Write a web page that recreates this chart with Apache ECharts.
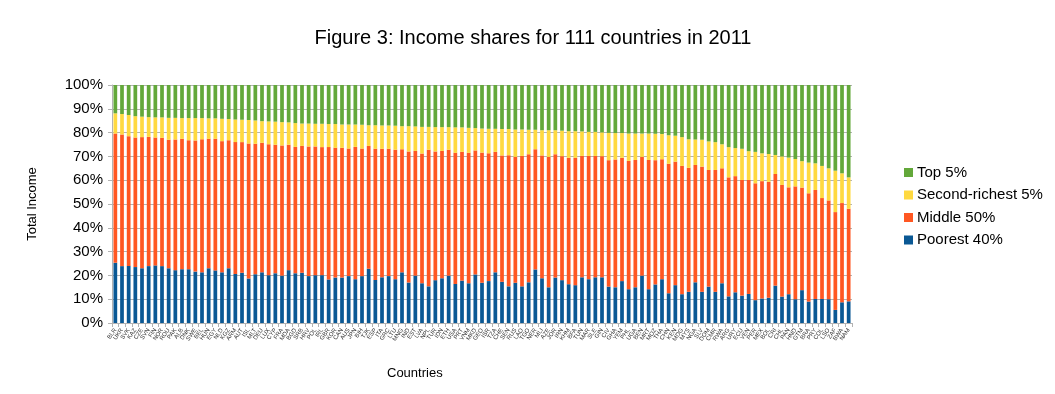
<!DOCTYPE html>
<html>
<head>
<meta charset="utf-8">
<script src="https://cdn.jsdelivr.net/npm/echarts@6/dist/echarts.min.js"></script>
<style>
html,body{margin:0;padding:0;background:#fff;}
#chart{width:1055px;height:394px;}
</style>
</head>
<body>
<div id="chart"></div>
<script>
const countries = ["BLR","UKR","SVK","KAZ","CZE","SVN","FIN","NOR","ROU","PAK","ALB","DNK","SWE","BEL","HUN","EGY","NLD","KGZ","ARM","AUT","ISL","MLT","DEU","LUX","CYP","FRA","MDA","BGD","SRB","HRV","POL","IRL","GBR","KOR","CAN","AUS","JPN","BIH","TJK","ESP","ITA","GRC","LTU","MNG","IND","EST","LVA","NPL","TUR","IDN","ETH","USA","PRT","VNM","MKD","GEO","ISR","TZA","CHE","SEN","RUS","LAO","TGO","NER","MLI","AZE","JOR","IRN","KHM","BFA","TUN","MAR","SLE","GIN","CIV","GHA","YEM","PHL","UGA","BEN","MRT","MOZ","THA","CHN","KEN","MDG","MYS","NGA","SLV","DOM","CMR","RWA","ARG","URY","ECU","VEN","PER","MEX","BOL","CRI","CHL","PAN","HND","GTM","BRA","PRY","COL","LSO","ZAF","BWA","NAM"];

const poorest40 = [25.3,23.9,24.0,23.5,23.0,23.9,24.2,23.9,23.0,22.2,22.6,22.6,21.6,21.3,23.0,22.1,21.3,23.0,20.6,21.1,18.7,20.5,21.3,20.1,20.9,19.9,22.2,20.9,21.1,19.7,20.1,20.1,18.3,19.1,19.1,19.7,18.4,19.7,22.8,18.1,19.2,19.7,18.4,21.3,17.0,19.9,16.7,15.4,18.0,18.8,19.9,16.4,17.8,16.7,20.4,16.9,17.6,21.3,17.3,15.4,16.9,15.4,17.1,22.5,18.8,15.0,19.1,18.0,16.3,15.9,19.2,18.4,19.2,19.2,15.3,15.0,17.6,14.2,15.0,19.9,14.2,16.2,18.4,12.5,15.9,12.1,13.1,17.1,13.1,15.3,13.1,16.7,11.2,12.9,11.5,12.2,9.6,10.3,10.6,15.7,11.1,12.1,10.0,13.8,9.0,10.1,10.1,10.0,5.5,8.7,9.1];

const middle50 = [54.3,55.3,54.5,54.4,55.1,54.3,53.7,53.9,54.0,54.9,54.8,54.2,55.1,55.9,54.4,55.3,55.1,53.8,55.4,54.9,56.7,54.8,54.4,55.0,54.0,54.7,52.7,53.1,53.3,54.5,54.1,53.8,55.6,54.5,54.5,53.6,55.6,53.6,51.6,55.1,54.0,53.5,54.4,51.7,55.1,52.4,54.5,57.4,54.1,53.5,52.9,55.1,54.1,54.8,52.1,54.7,53.7,50.6,53.1,55.1,52.9,54.8,53.8,50.5,51.6,54.8,51.8,52.1,53.1,53.5,51.0,51.8,51.0,50.9,53.1,53.7,51.8,53.9,53.5,49.9,54.3,52.2,50.4,54.4,51.9,53.9,52.1,49.3,52.6,49.0,51.2,48.3,50.0,48.8,48.6,47.9,49.1,49.3,48.7,46.9,46.9,44.9,47.4,43.1,45.5,45.8,42.4,41.5,41.1,41.7,38.9];

const secondRichest5 = [8.5,8.6,8.9,9.0,8.6,8.3,8.5,8.6,9.2,9.1,8.7,9.3,9.4,8.9,8.6,8.6,9.4,8.9,9.5,9.4,9.9,9.8,9.1,9.6,9.7,9.8,9.4,10.0,9.4,9.6,9.5,9.8,9.7,10.0,9.8,10.1,9.4,10.0,8.7,9.9,9.8,9.8,10.1,9.7,10.6,10.3,11.2,9.6,10.2,10.0,9.5,10.7,10.3,10.5,9.4,10.1,10.3,9.7,11.1,11.0,11.5,11.1,10.3,8.2,10.6,11.2,10.1,10.7,11.2,11.2,10.3,10.1,10.1,10.0,11.5,11.1,10.4,11.5,11.1,9.8,11.1,11.1,10.6,12.0,10.9,12.1,12.0,10.7,11.3,12.0,11.7,10.1,12.7,11.8,13.1,12.1,13.2,11.7,11.7,8.0,12.0,12.5,11.5,11.1,12.9,11.2,13.5,13.5,17.4,12.5,13.2];

const top5 = [11.9,12.2,12.6,13.1,13.3,13.5,13.6,13.6,13.8,13.8,13.9,13.9,13.9,13.9,14.0,14.0,14.2,14.3,14.5,14.6,14.7,14.9,15.2,15.3,15.4,15.6,15.7,16.0,16.2,16.2,16.3,16.3,16.4,16.4,16.6,16.6,16.6,16.7,16.9,16.9,17.0,17.0,17.1,17.3,17.3,17.4,17.6,17.6,17.7,17.7,17.7,17.8,17.8,18.0,18.1,18.3,18.4,18.4,18.5,18.5,18.7,18.7,18.8,18.8,19.0,19.0,19.0,19.2,19.4,19.4,19.5,19.7,19.7,19.9,20.1,20.2,20.2,20.4,20.4,20.4,20.4,20.5,20.6,21.1,21.3,21.9,22.8,22.9,23.0,23.7,24.0,24.9,26.1,26.5,26.8,27.8,28.1,28.7,29.0,29.4,30.0,30.5,31.1,32.0,32.6,32.9,34.0,35.0,36.0,37.1,38.8];

const yTicks = [0,10,20,30,40,50,60,70,80,90,100];

const seriesNames = ["Poorest 40%","Middle 50%","Second-richest 5%","Top 5%"];
const seriesData = [poorest40, middle50, secondRichest5, top5];
const seriesColors = ["#0A5894","#FF5722","#FFD940","#63A83A"];

const FONT = "Liberation Sans, Arial, Helvetica, sans-serif";

const chart = echarts.init(document.getElementById('chart'), null, {renderer:'canvas'});
chart.setOption({
  animation:false,
  backgroundColor:'#fff',
  title:{
    text:'Figure 3: Income shares for 111 countries in 2011',
    left:528, top:23, textAlign:'center',
    textStyle:{fontFamily:FONT,fontSize:20,fontWeight:'normal',color:'#000'}
  },
  legend:{
    orient:'vertical',
    left:899, top:160,
    itemWidth:9, itemHeight:9, itemGap:7.5,
    icon:'rect',
    data:['Top 5%','Second-richest 5%','Middle 50%','Poorest 40%'],
    textStyle:{fontFamily:FONT,fontSize:15,color:'#000',padding:[0,0,0,-1]}
  },
  grid:{left:112,right:203,top:85,bottom:71,containLabel:false},
  xAxis:{
    type:'category',
    data:countries,
    axisLine:{show:true,lineStyle:{color:'#b3b3b3'}},
    axisTick:{show:true,interval:0,length:4,lineStyle:{color:'#b3b3b3'}},
    axisLabel:{interval:0,rotate:55,fontSize:6,margin:6,color:'#333',fontFamily:FONT},
    name:''
  },
  yAxis:{
    type:'value',
    min:0,max:100,interval:10,
    axisLine:{show:true,lineStyle:{color:'#b3b3b3'}},
    axisTick:{show:true,length:4,lineStyle:{color:'#b3b3b3'}},
    splitLine:{show:true,lineStyle:{color:'#b3b3b3',width:1}},
    axisLabel:{fontFamily:FONT,fontSize:15,color:'#000',margin:9,
      formatter:function(v){return yTicks.indexOf(v)>=0 ? v+'%' : '';}},
    name:'Total Income',
    nameLocation:'middle',
    nameRotate:90,
    nameGap:73,
    nameTextStyle:{fontFamily:FONT,fontSize:13,color:'#000'}
  },
  graphic:[{
    type:'text',
    left:387, top:367,
    style:{text:'Countries',font:'13px '+FONT,fill:'#000'}
  }],
  series: seriesNames.map(function(n,i){
    return {
      name:n,type:'bar',stack:'total',
      data:seriesData[i],
      barCategoryGap:'44%',
      itemStyle:{color:seriesColors[i]}
    };
  })
});
</script>
</body>
</html>
